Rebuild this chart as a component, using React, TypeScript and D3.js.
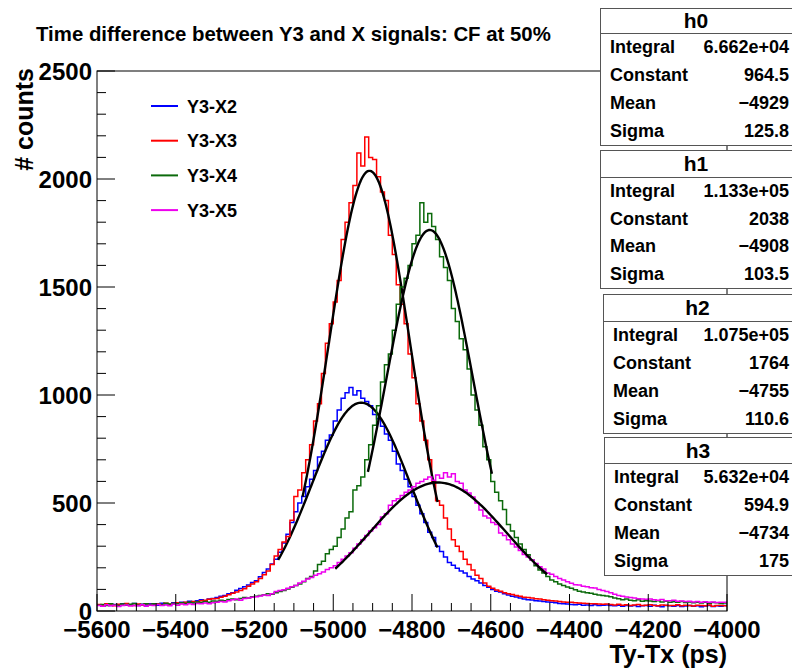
import React from "react";
import * as d3 from "d3";

// histogram binning (10 ps bins from -5600 to -4000)
const xMin = -5600;
const xMax = -4000;
const nBins = 160;

const seriesNames = ["Y3-X2", "Y3-X3", "Y3-X4", "Y3-X5"];
const statNames = ["h0", "h1", "h2", "h3"];

const countsY3X2 = [
  28, 22, 31, 26, 30, 24, 33, 27, 29, 35, 26, 31, 28, 34, 30, 27, 36, 32, 29, 38,
  36, 41, 39, 45, 42, 48, 52, 47, 55, 58,
  62, 68, 72, 80, 85, 96, 104, 112, 120, 132,
  140, 158, 178, 195, 218, 240, 272, 315, 355, 410,
  460, 500, 530, 575, 610, 650, 713, 740, 790, 815,
  880, 930, 985, 1010, 1035, 1000, 1020, 985, 970, 950,
  910, 890, 855, 820, 790, 740, 680, 650, 610, 575,
  530, 490, 450, 410, 365, 340, 300, 275, 250, 225,
  212, 198, 185, 176, 160, 148, 140, 130, 118, 110,
  100, 92, 88, 80, 74, 68, 65, 60, 56, 52,
  51, 48, 46, 44, 42, 40, 38, 35, 33, 32,
  30, 29, 31, 27, 28, 26, 29, 25, 27, 28,
  26, 24, 27, 22, 25, 23, 26, 21, 24, 25, 22, 27, 23, 20, 25,
  24, 22, 26, 21, 23, 25, 22, 24, 20, 23, 25, 21, 24, 22, 26,
];

const countsY3X3 = [
  30, 25, 33, 28, 24, 31, 27, 35, 29, 26, 32, 28, 34, 30, 27, 33, 29, 36, 31, 35,
  38, 35, 41, 38, 44, 42, 47, 50, 54, 57,
  58, 64, 68, 75, 82, 88, 95, 103, 115, 125,
  135, 150, 168, 185, 215, 255, 285, 320, 345, 420,
  530, 560, 640, 700, 770, 880, 960, 1100, 1240, 1330,
  1430, 1530, 1720, 1800, 1890, 1970, 2120, 2060, 2194, 2100,
  2090, 2010, 1940, 1900, 1740, 1650, 1510, 1420, 1330, 1190,
  1080, 960, 880, 790, 700, 600, 510, 490, 430, 380,
  330, 300, 275, 240, 215, 190, 165, 150, 130, 115,
  105, 97, 92, 85, 80, 76, 72, 68, 64, 62,
  60, 57, 55, 52, 50, 48, 46, 44, 42, 41,
  40, 38, 37, 36, 35, 33, 34, 32, 31, 32,
  30, 28, 31, 27, 29, 26, 28, 30, 25, 27, 29, 26, 24, 28, 27,
  25, 26, 29, 24, 27, 25, 23, 27, 26, 24, 28, 22, 25, 26, 24,
];

const countsY3X4 = [
  27, 30, 25, 33, 29, 26, 32, 28, 31, 35, 27, 30, 34, 29, 33, 31, 28, 36, 32, 35,
  33, 38, 35, 40, 37, 42, 39, 44, 41, 46,
  45, 50, 48, 53, 55, 52, 58, 62, 60, 66,
  68, 72, 75, 80, 78, 85, 90, 95, 102, 110,
  118, 125, 135, 150, 160, 185, 215, 230, 265, 285,
  300, 340, 380, 430, 460, 560, 580, 620, 700, 770,
  860, 950, 1060, 1140, 1190, 1300, 1420, 1500, 1540, 1600,
  1700, 1740, 1890, 1800, 1840, 1780, 1720, 1640, 1590, 1530,
  1400, 1340, 1260, 1210, 1120, 1000, 930, 860, 760, 700,
  600, 550, 510, 470, 400, 370, 340, 310, 285, 260,
  236, 210, 190, 176, 160, 143, 135, 125, 118, 111,
  105, 98, 92, 88, 85, 82, 78, 74, 72, 70,
  66, 60, 57, 52, 55, 50, 47, 52, 45, 48, 46, 44, 47, 42, 45,
  41, 43, 40, 44, 39, 42, 38, 41, 37, 40, 36, 39, 38, 35, 37,
];

const countsY3X5 = [
  26, 22, 29, 24, 27, 21, 25, 28, 23, 26, 24, 29, 22, 27, 25, 30, 26, 28, 24, 31,
  27, 32, 29, 34, 30, 35, 33, 37, 34, 38,
  40, 44, 42, 48, 52, 55, 50, 58, 60, 64,
  66, 70, 74, 72, 80, 90, 95, 98, 105, 112,
  118, 130, 138, 148, 155, 165, 172, 180, 192, 200,
  210, 225, 240, 255, 270, 290, 310, 330, 350, 370,
  385, 400, 435, 450, 490, 510, 520, 535, 550, 560,
  575, 592, 600, 610, 620, 605, 630, 615, 640, 620,
  635, 600, 592, 560, 546, 528, 500, 468, 440, 430,
  410, 400, 361, 350, 330, 310, 296, 280, 262, 250,
  236, 220, 205, 195, 176, 170, 160, 150, 143, 135,
  128, 122, 120, 115, 112, 108, 106, 100, 95, 90,
  84, 78, 72, 68, 65, 62, 60, 57, 55, 54, 55, 52, 50, 53, 48,
  47, 50, 45, 46, 44, 45, 42, 44, 41, 43, 40, 42, 39, 41, 40,
];

const allCounts = [countsY3X2, countsY3X3, countsY3X4, countsY3X5];

// gaussian fit results (as in the stat boxes) and fit ranges
const fitConstant = [964.5, 2038, 1764, 594.9];
const fitMean = [-4929, -4908, -4755, -4734];
const fitSigma = [125.8, 103.5, 110.6, 175];
const fitLow = [-5140, -5078, -4912, -4995];
const fitHigh = [-4735, -4735, -4597, -4457];

const integralLabels = ["6.662e+04", "1.133e+05", "1.075e+05", "5.632e+04"];
const constantLabels = ["964.5", "2038", "1764", "594.9"];
const meanLabels = ["\u22124929", "\u22124908", "\u22124755", "\u22124734"];
const sigmaLabels = ["125.8", "103.5", "110.6", "175"];

const xTicks = [-5600, -5400, -5200, -5000, -4800, -4600, -4400, -4200, -4000];
const yTicks = [0, 500, 1000, 1500, 2000, 2500];

const colors = ["#0000ff", "#ff0000", "#0b6a0b", "#ee00ee"];
const font = "'Liberation Sans', Arial, Helvetica, sans-serif";

const W = 792;
const H = 668;
const frame = { left: 97, right: 727, top: 71, bottom: 611 };

const boxes = [
  { x: 600, top: 8, sep: 33, bottom: 145 },
  { x: 600, top: 150, sep: 177, bottom: 288 },
  { x: 603, top: 294, sep: 321, bottom: 433 },
  { x: 604, top: 437, sep: 463, bottom: 575 },
];

const App = () => {
  const x = d3.scaleLinear().domain([xMin, xMax]).range([frame.left, frame.right]);
  const y = d3.scaleLinear().domain([0, 2500]).range([frame.bottom, frame.top]);
  const binW = (xMax - xMin) / nBins;
  const fmt = d3.format("d");

  const histLine = d3
    .line<[number, number]>()
    .x(d => x(d[0]))
    .y(d => y(d[1]))
    .curve(d3.curveStepAfter);

  const fitLine = d3
    .line<[number, number]>()
    .x(d => x(d[0]))
    .y(d => y(d[1]));

  const histPath = (counts: number[]) => {
    const pts: [number, number][] = counts.map((c, i) => [xMin + i * binW, c]);
    pts.push([xMax, counts[counts.length - 1]]);
    return histLine(pts);
  };

  const fitPath = (k: number) => {
    const pts: [number, number][] = d3
      .range(0, 121)
      .map(j => {
        const v = fitLow[k] + ((fitHigh[k] - fitLow[k]) * j) / 120;
        const z = (v - fitMean[k]) / fitSigma[k];
        return [v, fitConstant[k] * Math.exp(-0.5 * z * z)];
      });
    return fitLine(pts);
  };

  const minorX = d3.range(xMin, xMax + 1, 50);
  const minorY = d3.range(0, 2501, 100);

  return (
    <svg
      width={W}
      height={H}
      style={{ position: "absolute", left: 0, top: 0, background: "#fff" }}
      fontFamily={font}
      fontWeight="bold"
    >
      <rect x={0} y={0} width={W} height={H} fill="#fff" />
      <defs>
        <clipPath id="frameClip">
          <rect
            x={frame.left}
            y={frame.top}
            width={frame.right - frame.left}
            height={frame.bottom - frame.top}
          />
        </clipPath>
      </defs>

      <text x={36} y={41} fontSize={20.4}>
        Time difference between Y3 and X signals: CF at 50%
      </text>

      {/* histograms with their fits */}
      <g clipPath="url(#frameClip)">
        {allCounts.map((counts, k) => (
          <g key={k}>
            <path d={histPath(counts) || ""} fill="none" stroke={colors[k]} strokeWidth={1.5} />
            <path d={fitPath(k) || ""} fill="none" stroke="#000" strokeWidth={2.4} />
          </g>
        ))}
      </g>

      {/* frame */}
      <rect
        x={frame.left}
        y={frame.top}
        width={frame.right - frame.left}
        height={frame.bottom - frame.top}
        fill="none"
        stroke="#000"
        strokeWidth={1}
      />

      {/* x axis ticks */}
      {minorX.map(v => {
        const major = xTicks.includes(v);
        return (
          <line
            key={"xt" + v}
            x1={x(v)}
            x2={x(v)}
            y1={frame.bottom}
            y2={frame.bottom - (major ? 17 : 8)}
            stroke="#000"
          />
        );
      })}
      {xTicks.map(v => (
        <text key={"xl" + v} x={x(v)} y={638} fontSize={24} textAnchor="middle">
          {fmt(v)}
        </text>
      ))}
      <text x={frame.right} y={663} fontSize={25} textAnchor="end">
        Ty-Tx (ps)
      </text>

      {/* y axis ticks */}
      {minorY.map(v => {
        const major = yTicks.includes(v);
        return (
          <line
            key={"yt" + v}
            x1={frame.left}
            x2={frame.left + (major ? 18 : 9)}
            y1={y(v)}
            y2={y(v)}
            stroke="#000"
          />
        );
      })}
      {yTicks.map(v => (
        <text key={"yl" + v} x={92} y={y(v) + 9} fontSize={24} textAnchor="end">
          {fmt(v)}
        </text>
      ))}
      <text transform="rotate(-90)" x={-68} y={33} fontSize={25} textAnchor="end">
        # counts
      </text>

      {/* legend */}
      {seriesNames.map((name, k) => {
        const cy = 106 + k * 34.7;
        return (
          <g key={name}>
            <line x1={151} x2={178} y1={cy} y2={cy} stroke={colors[k]} strokeWidth={2} />
            <text x={187} y={cy + 6.5} fontSize={18}>
              {name}
            </text>
          </g>
        );
      })}

      {/* stat boxes */}
      {boxes.map((b, k) => {
        const rowH = (b.bottom - b.sep) / 4;
        const rows = [
          ["Integral", integralLabels[k]],
          ["Constant", constantLabels[k]],
          ["Mean", meanLabels[k]],
          ["Sigma", sigmaLabels[k]],
        ];
        return (
          <g key={statNames[k]}>
            <rect
              x={b.x + 0.5}
              y={b.top + 0.5}
              width={W - b.x + 10}
              height={b.bottom - b.top}
              fill="#fff"
              stroke="#555"
              strokeWidth={1}
            />
            <line x1={b.x} x2={W} y1={b.sep + 0.5} y2={b.sep + 0.5} stroke="#555" />
            <text x={(b.x + W) / 2} y={(b.top + b.sep) / 2 + 7.5} fontSize={21} textAnchor="middle">
              {statNames[k]}
            </text>
            {rows.map((r, j) => {
              const cy = b.sep + rowH * (j + 0.5);
              return (
                <g key={r[0]}>
                  <text x={b.x + 10} y={cy + 6} fontSize={18}>
                    {r[0]}
                  </text>
                  <text x={789} y={cy + 6} fontSize={18} textAnchor="end">
                    {r[1]}
                  </text>
                </g>
              );
            })}
          </g>
        );
      })}
    </svg>
  );
};

export default App;
